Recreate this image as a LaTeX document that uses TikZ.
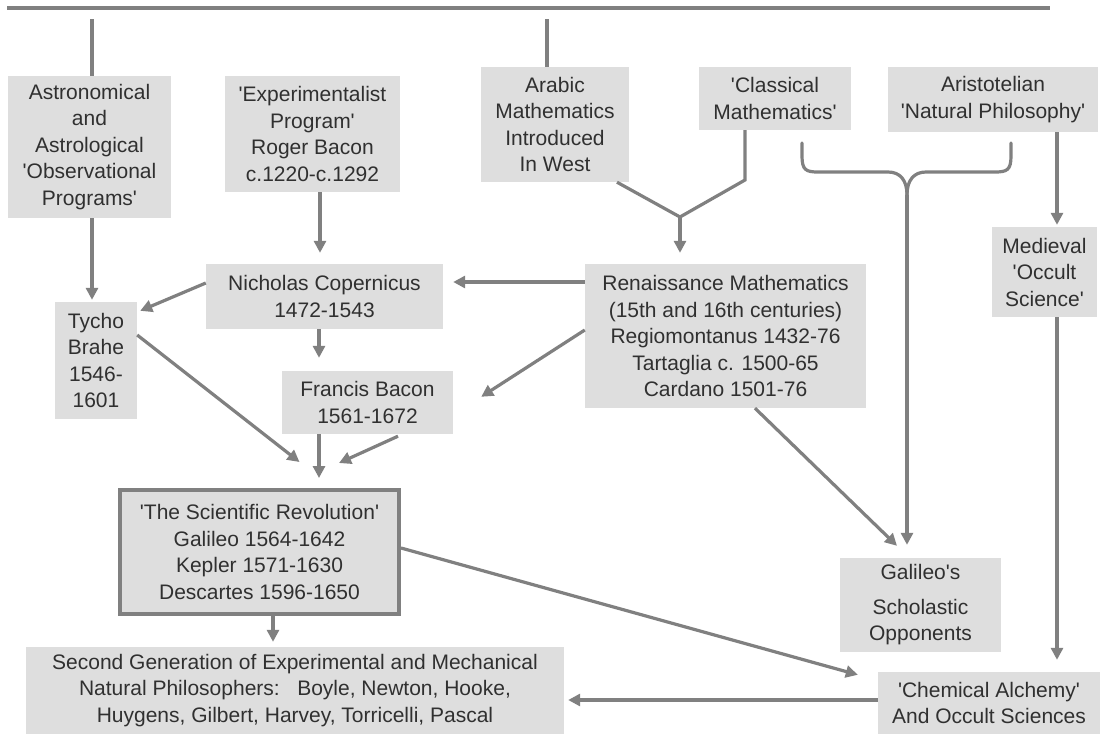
\documentclass[tikz,border=0pt]{standalone}
\usepackage{fontspec}
\setmainfont{Liberation Sans}
\usetikzlibrary{arrows.meta,calc}
\definecolor{boxgray}{HTML}{DEDEDE}
\definecolor{linegray}{HTML}{808080}
\definecolor{txt}{HTML}{303030}
\newcommand{\sq}{\textquotesingle}
\begin{document}
\begin{tikzpicture}[x=1pt,y=-1pt,
  box/.style={fill=boxgray, inner sep=0pt, align=center, text=txt,
    font=\fontsize{21}{26.5}\selectfont},
  conn/.style={draw=linegray, line width=3.2pt},
  arr/.style={conn, -{Triangle[length=12pt,width=12pt]}},
  heavy/.style={box, draw=linegray, line width=4pt}]
\useasboundingbox (0,0) rectangle (1101,734);
\fill[white] (0,0) rectangle (1101,734);

% boxes
\node[box, minimum width=163, minimum height=142] (astro) at (89.5,147)
  {Astronomical\\and\\Astrological\\\sq Observational\\Programs\sq};
\node[box, minimum width=175, minimum height=116] (exper) at (312.5,134)
  {\sq Experimentalist\\Program\sq\\Roger Bacon\\c.1220-c.1292};
\node[box, minimum width=148, minimum height=115] (arabic) at (555,124.5)
  {Arabic\\Mathematics\\Introduced\\In West};
\node[box, minimum width=152, minimum height=63] (classic) at (775,98.5)
  {\sq Classical\\Mathematics\sq};
\node[box, minimum width=210, minimum height=65] (arist) at (993,99.5)
  {Aristotelian\\\sq Natural Philosophy\sq};
\node[box, minimum width=105, minimum height=90] (medieval) at (1044.5,272)
  {Medieval\\\sq Occult\\Science\sq};
\node[box, minimum width=237, minimum height=65] (cop) at (324.5,296.5)
  {Nicholas Copernicus\\1472-1543};
\node[box, minimum width=82, minimum height=117] (tycho) at (96,360.5)
  {Tycho\\Brahe\\1546-\\1601};
\node[box, minimum width=171, minimum height=63] (francis) at (367.5,402.5)
  {Francis Bacon\\1561-1672};
\node[box, minimum width=281, minimum height=144] (ren) at (725.5,336)
  {Renaissance Mathematics\\(15th and 16th centuries)\\Regiomontanus 1432-76\\Tartaglia c. 1500-65\\Cardano 1501-76};
\node[heavy, minimum width=279, minimum height=124] (scirev) at (259.5,552)
  {\sq The Scientific Revolution\sq\\Galileo 1564-1642\\Kepler 1571-1630\\Descartes 1596-1650};
\node[box, minimum width=161, minimum height=94] (galileo) at (920.5,605)
  {Galileo\sq s\\[8pt]Scholastic\\Opponents};
\node[box, minimum width=538, minimum height=87] (second) at (295,690.5)
  {Second Generation of Experimental and Mechanical\\Natural Philosophers:\ \ \ Boyle, Newton, Hooke,\\Huygens, Gilbert, Harvey, Torricelli, Pascal};
\node[box, minimum width=222, minimum height=62] (chem) at (989,703)
  {\sq Chemical Alchemy\sq\\And Occult Sciences};

% top rule and lines to it
\coordinate (topL) at (7,8);
\coordinate (topR) at (1050,8);
\draw[conn] (topL) -- (topR);
\coordinate (astroT) at (92,19);
\coordinate (arabicT) at (547,19);
\draw[conn] (astroT) -- (astro.north -| astroT);
\draw[conn] (arabicT) -- (arabic.north -| arabicT);

% top-level arrows
\draw[arr, shorten >=2pt] (astro.south -| 92,0) -- (tycho.north -| 92,0);
\draw[arr, shorten >=11pt] (exper.south -| 320,0) -- (cop.north -| 320,0);

% fork from Arabic and Classical
\coordinate (fork) at (680,217);
\draw[conn, line join=miter] (arabic.south -| 617,0) -- (fork);
\draw[conn, line join=miter] (classic.south -| 745,0) -- (745,180) -- (fork);
\draw[arr, shorten >=11pt] (fork) -- (ren.north -| fork);

% brace
\coordinate (brk) at (907,195);
\draw[conn, line cap=round] (802,143) -- (802,156) .. controls (802,170) and (806,172) .. (818,172)
  -- (888,172) .. controls (900,172) and (907,180) .. (brk);
\draw[conn, line cap=round] (1011,143) -- (1011,156) .. controls (1011,170) and (1007,172) .. (995,172)
  -- (926,172) .. controls (914,172) and (907,180) .. (brk);
\draw[arr, shorten >=13pt] (brk) -- (galileo.north -| brk);

% right column
\draw[arr, shorten >=2pt] (arist.south -| 1057,0) -- (medieval.north -| 1057,0);
\draw[arr, shorten >=12pt] (medieval.south -| 1057,0) -- (chem.north -| 1057,0);

% middle arrows
\draw[arr, shorten >=10pt] (ren.west |- 0,282) -- (cop.east |- 0,282);
\draw[arr] (cop.west |- 0,283) -- ($(tycho.north east)+(3,9)$);
\draw[arr, shorten >=13pt] (cop.south -| 319,0) -- (francis.north -| 319,0);
\draw[arr] (ren.west |- 0,330) -- ($(francis.north east)+(28,26)$);
\draw[arr] (tycho.east |- 0,335) -- ($(scirev.north)+(40,-26)$);
\draw[arr, shorten >=10pt] (francis.south -| 319,0) -- (scirev.north -| 319,0);
\draw[arr] ($(francis.south)+(30.5,2)$) -- ($(scirev.north)+(79.5,-25)$);
\draw[arr] (ren.south -| 755,0) -- ($(galileo.north)+(-23.5,-12)$);

% lower arrows
\draw[arr, shorten >=5pt] (scirev.south -| 273,0) -- (second.north -| 273,0);
\draw[arr] (scirev.east |- 0,548) -- ($(chem.north west)+(-20,3)$);
\draw[arr, shorten >=4pt] (chem.west |- 0,700) -- (second.east |- 0,700);
\end{tikzpicture}
\end{document}
